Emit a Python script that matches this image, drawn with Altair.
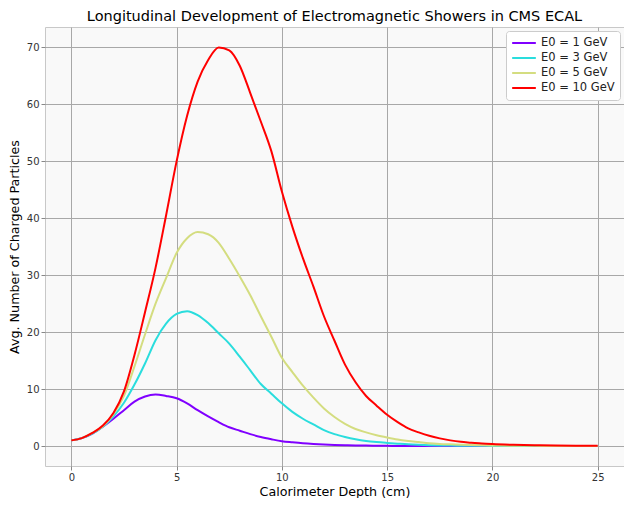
import altair as alt
import pandas as pd

depth = [0, 0.5, 1, 1.5, 2, 2.5, 3, 3.5, 4, 4.5, 5, 5.5, 6, 6.5, 7, 7.5, 8, 8.5, 9, 9.5,
         10, 10.5, 11, 11.5, 12, 12.5, 13, 13.5, 14, 14.5, 15, 15.5, 16, 16.5, 17, 17.5,
         18, 18.5, 19, 19.5, 20, 21, 22, 23, 24, 25]

e1 = [1.0, 1.4, 2.2, 3.4, 4.8, 6.3, 7.8, 8.7, 9.05, 8.8, 8.4, 7.5, 6.3, 5.2, 4.2, 3.3,
      2.7, 2.1, 1.6, 1.2, 0.85, 0.65, 0.48, 0.36, 0.27, 0.2, 0.15, 0.11, 0.08, 0.06,
      0.04, 0.03, 0.02, 0.02, 0.01, 0.01, 0.01, 0.01, 0.0, 0.0, 0.0, 0.0, 0.0, 0.0, 0.0, 0.0]

e3 = [1.0, 1.4, 2.2, 3.4, 5.2, 7.6, 10.8, 14.5, 18.6, 21.5, 23.2, 23.7, 23.0, 21.6,
      19.8, 18.0, 15.7, 13.3, 10.9, 9.2, 7.5, 6.0, 4.8, 3.8, 2.8, 2.1, 1.6, 1.2, 0.9,
      0.7, 0.55, 0.42, 0.3, 0.22, 0.16, 0.12, 0.09, 0.07, 0.05, 0.04, 0.03, 0.02, 0.01,
      0.01, 0.0, 0.0]

e5 = [1.0, 1.4, 2.3, 3.5, 5.6, 8.8, 14.0, 19.6, 25.0, 29.5, 33.9, 36.5, 37.6, 37.2,
      35.7, 32.9, 29.8, 26.5, 22.8, 19.2, 15.5, 13.0, 10.6, 8.5, 6.6, 5.1, 3.9, 3.0,
      2.4, 1.9, 1.5, 1.15, 0.9, 0.7, 0.5, 0.38, 0.3, 0.23, 0.17, 0.13, 0.1, 0.06, 0.04,
      0.02, 0.01, 0.01]

e10 = [1.0, 1.4, 2.3, 3.6, 5.8, 9.6, 16.0, 23.5, 31.3, 40.5, 50.0, 58.0, 64.0, 67.8,
       70.0, 69.5, 66.8, 62.0, 57.0, 51.8, 44.7, 38.5, 33.0, 28.0, 22.8, 18.5, 14.3,
       11.2, 8.8, 7.1, 5.5, 4.2, 3.1, 2.4, 1.8, 1.35, 1.0, 0.75, 0.6, 0.45, 0.35, 0.22,
       0.14, 0.09, 0.06, 0.04]

series = ["E0 = 1 GeV", "E0 = 3 GeV", "E0 = 5 GeV", "E0 = 10 GeV"]
colors = ["#8000ff", "#2adddd", "#d4dd80", "#ff0000"]

rows = []
for name, vals in zip(series, [e1, e3, e5, e10]):
    for d, v in zip(depth, vals):
        rows.append({"depth": d, "count": v, "series": name})
df = pd.DataFrame(rows)

chart = alt.Chart(df).mark_line(strokeWidth=2, clip=True, interpolate="monotone").encode(
    x=alt.X("depth:Q", title="Calorimeter Depth (cm)",
            scale=alt.Scale(domain=[-1.25, 26.25], nice=False, zero=False),
            axis=alt.Axis(values=[0, 5, 10, 15, 20, 25], format="d")),
    y=alt.Y("count:Q", title="Avg. Number of Charged Particles",
            scale=alt.Scale(domain=[-3.5, 73.6], nice=False, zero=False),
            axis=alt.Axis(values=[0, 10, 20, 30, 40, 50, 60, 70], format="d")),
    color=alt.Color("series:N", sort=series,
                    scale=alt.Scale(domain=series, range=colors),
                    legend=alt.Legend(title=None, orient="top-right", symbolType="stroke",
                                      symbolStrokeWidth=2, symbolSize=560, clipHeight=14,
                                      labelFontSize=11.5, labelColor="#222",
                                      fillColor="white", strokeColor="#cccccc",
                                      cornerRadius=3, padding=5, rowPadding=1,
                                      offset=4, labelFont="DejaVu Sans")),
    order=alt.Order("depth:Q"),
).properties(
    width=616, height=490,
    autosize=alt.AutoSizeParams(type="fit", contains="padding"),
    padding={"left": 0, "top": 0, "right": 0, "bottom": 0},
    title=alt.TitleParams("Longitudinal Development of Electromagnetic Showers in CMS ECAL",
                          fontSize=14.5, fontWeight="normal", font="DejaVu Sans",
                          color="#000", offset=3),
).configure_view(
    fill="#f9f9f9", stroke="#c8c8c8", strokeWidth=1
).configure_axis(
    grid=True, gridColor="#a8a8a8", gridWidth=1, gridOpacity=1,
    domain=False, tickColor="#888", tickSize=4,
    labelFont="DejaVu Sans", labelFontSize=10, labelColor="#333", labelPadding=2,
    titleFont="DejaVu Sans", titleFontSize=12.7, titleFontWeight="normal", titleColor="#000",
).configure_axisX(titlePadding=3).configure_axisY(titlePadding=5)

chart.save("out.html", embed_options={"renderer": "svg", "actions": False})
